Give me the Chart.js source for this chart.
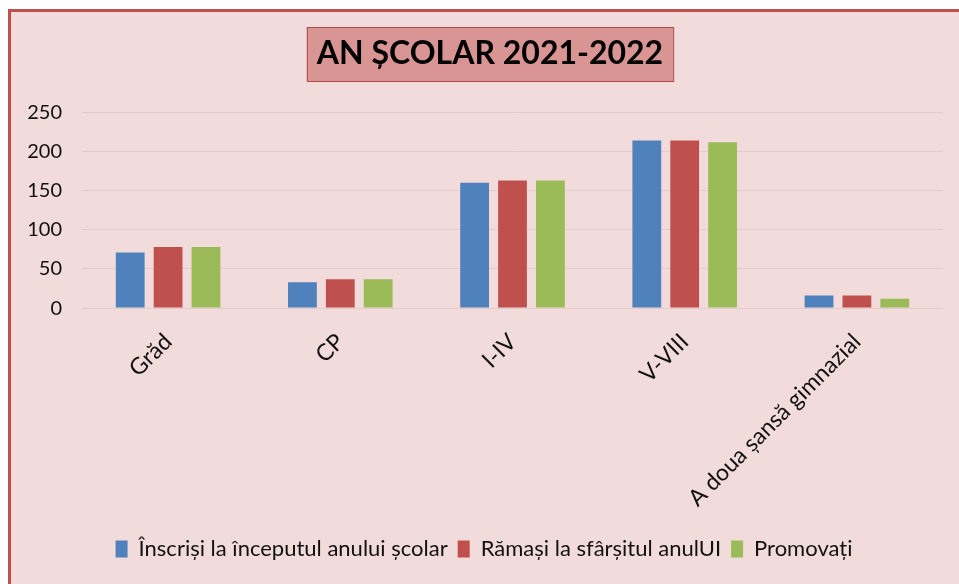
<!DOCTYPE html>
<html>
<head>
<meta charset="utf-8">
<script src="https://cdn.jsdelivr.net/npm/chart.js@4"></script>
<style>
  html, body { margin: 0; padding: 0; background: #fff; overflow: hidden; }
  #wrap {
    position: absolute; left: 8px; top: 9px;
    width: 948px; height: 572px;
    border-left: 3px solid #c0504d; border-top: 3px solid #c0504d;
    background: #f2dcdb;
    overflow: hidden;
  }
  canvas { display: block; }
</style>
</head>
<body>
<div id="wrap"><canvas id="scoala-graph" width="948" height="572"></canvas></div>
<script>
const categories = ['Grăd', 'CP', 'I-IV', 'V-VIII', 'A doua șansă gimnazial'];
const inscrisi = [71, 33, 160, 214, 16];
const ramasi = [78, 37, 163, 214, 16];
const promovati = [78, 37, 163, 212, 12];
const yMax = 250;
const yStep = 50;

const fontFam = 'Lato, "Open Sans", sans-serif';

// title and legend sit a bit right of the canvas centre in the original
const nudge = {
  id: 'nudge',
  afterLayout(chart) {
    if (chart.titleBlock) { chart.titleBlock.left += 13; chart.titleBlock.right += 13; }
    if (chart.legend) { chart.legend.left += 7; chart.legend.right += 7; }
  }
};

// draws the pink box behind the title text
const titleBox = {
  id: 'titleBox',
  beforeDraw(chart) {
    const t = chart.titleBlock;
    if (!t) return;
    const ctx = chart.ctx;
    ctx.save();
    ctx.font = 'bold 32px ' + fontFam;
    const w = ctx.measureText(chart.options.plugins.title.text).width;
    const cx = (t.left + t.right) / 2;
    const boxW = w + 20, boxH = 54;
    const top = 15;
    ctx.fillStyle = '#d99594';
    ctx.fillRect(cx - boxW / 2, top, boxW, boxH);
    ctx.strokeStyle = '#b04a48';
    ctx.lineWidth = 1;
    ctx.strokeRect(cx - boxW / 2 + 0.5, top + 0.5, boxW, boxH);
    ctx.restore();
  }
};

const scoalaChart = new Chart(document.querySelector('#scoala-graph'), {
  type: 'bar',
  data: {
    labels: categories,
    datasets: [{
      label: 'Înscriși la începutul anului școlar',
      backgroundColor: '#4f81bd',
      data: inscrisi
    }, {
      label: 'Rămași la sfârșitul anulUI',
      backgroundColor: '#c0504d',
      data: ramasi
    }, {
      label: 'Promovați',
      backgroundColor: '#9bbb59',
      data: promovati
    }]
  },
  options: {
    responsive: false,
    animation: false,
    devicePixelRatio: 1,
    layout: { padding: { left: 0, right: 16, top: 0, bottom: 14 } },
    datasets: { bar: { barPercentage: 0.76, categoryPercentage: 0.66 } },
    scales: {
      x: {
        grid: { display: false },
        border: { display: false },
        ticks: {
          color: '#111',
          font: { family: fontFam, size: 23 },
          minRotation: 45,
          maxRotation: 45,
          padding: 12
        },
        afterFit(axis) { axis.height += 4; }
      },
      y: {
        min: 0,
        max: yMax,
        grid: { color: 'rgba(215, 190, 190, 0.55)', drawTicks: false },
        border: { display: false },
        ticks: {
          stepSize: yStep,
          color: '#111',
          font: { family: fontFam, size: 20 },
          padding: 20
        },
        afterFit(axis) { axis.width = 71; }
      }
    },
    plugins: {
      title: {
        display: true,
        text: 'AN ȘCOLAR 2021-2022',
        color: '#000',
        font: { family: fontFam, size: 32, weight: 'bold' },
        padding: { top: 22, bottom: 40 }
      },
      legend: {
        position: 'bottom',
        labels: {
          color: '#111',
          font: { family: fontFam, size: 22 },
          boxWidth: 12,
          boxHeight: 17,
          padding: 10
        }
      },
      tooltip: { enabled: false }
    }
  },
  plugins: [nudge, titleBox]
});
</script>
</body>
</html>
